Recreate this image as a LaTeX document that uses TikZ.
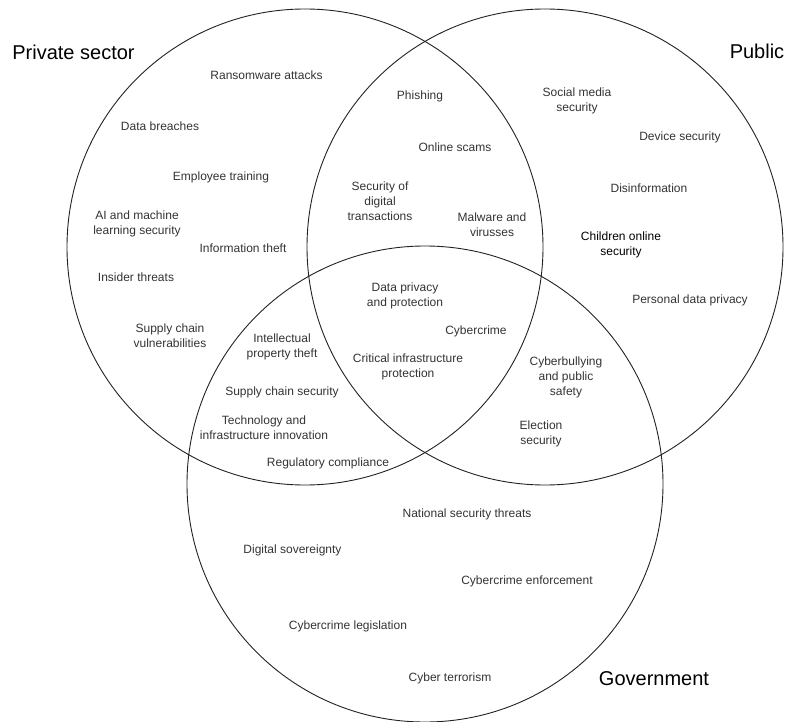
\documentclass[tikz,border=0pt]{standalone}
\usepackage{fontspec}
\setmainfont{Liberation Sans}
\definecolor{txt}{HTML}{333333}
\definecolor{ring}{HTML}{222222}
\begin{document}
\begin{tikzpicture}[x=1pt,y=-1pt,
  set/.style={circle,draw=ring,line width=0.9pt,minimum size=476pt,inner sep=0pt},
  lab/.style={text=txt,align=center,font=\fontsize{12}{15}\selectfont,inner sep=0pt},
  labk/.style={lab,text=black},
  title/.style={text=black,font=\fontsize{20}{24}\selectfont,inner sep=0pt}]
\useasboundingbox (0,0) rectangle (792,722);
\node[set] (priv) at (305,247) {};
\node[set] (pub) at (545,247) {};
\node[set] (gov) at (425,484) {};
% titles
\node[title] (tpriv) at (73.5,52) {Private sector};
\node[title] (tpub) at (757,51) {Public};
\node[title] (tgov) at (654,679) {Government};
% private only
\node[lab] (l1) at (266.5,75) {Ransomware attacks};
\node[lab] (l2) at (160,126) {Data breaches};
\node[lab] (l3) at (221,177) {Employee training};
\node[lab] (l4) at (137,223.5) {AI and machine\\learning security};
\node[lab] (l5) at (243,248) {Information theft};
\node[lab] (l6) at (136,277) {Insider threats};
\node[lab] (l7) at (170,336) {Supply chain\\vulnerabilities};
% private & public
\node[lab] (l8) at (420,96) {Phishing};
\node[lab] (l9) at (455,147) {Online scams};
\node[lab] (l10) at (380,201) {Security of\\digital\\transactions};
\node[lab] (l11) at (492,224.5) {Malware and\\virusses};
% public only
\node[lab] (l12) at (577,101) {Social media\\security};
\node[lab] (l13) at (680,137) {Device security};
\node[lab] (l14) at (649,188) {Disinformation};
\node[labk] (l15) at (621,245) {Children online\\security};
\node[lab] (l16) at (690,300) {Personal data privacy};
% all three
\node[lab] (l17) at (405,296) {Data privacy\\and protection};
\node[lab] (l18) at (476,331) {Cybercrime};
\node[lab] (l19) at (408,367) {Critical infrastructure\\protection};
% private & government
\node[lab] (l20) at (282,346.5) {Intellectual\\property theft};
\node[lab] (l21) at (282,392) {Supply chain security};
\node[lab] (l22) at (264,428) {Technology and\\infrastructure innovation};
\node[lab] (l23) at (328,463) {Regulatory compliance};
% public & government
\node[lab] (l24) at (566,377) {Cyberbullying\\and public\\safety};
\node[lab] (l25) at (541,433.5) {Election\\security};
% government only
\node[lab] (l26) at (467,514) {National security threats};
\node[lab] (l27) at (292.5,550) {Digital sovereignty};
\node[lab] (l28) at (527,581) {Cybercrime enforcement};
\node[lab] (l29) at (348,626) {Cybercrime legislation};
\node[lab] (l30) at (450,678) {Cyber terrorism};
\end{tikzpicture}
\end{document}
